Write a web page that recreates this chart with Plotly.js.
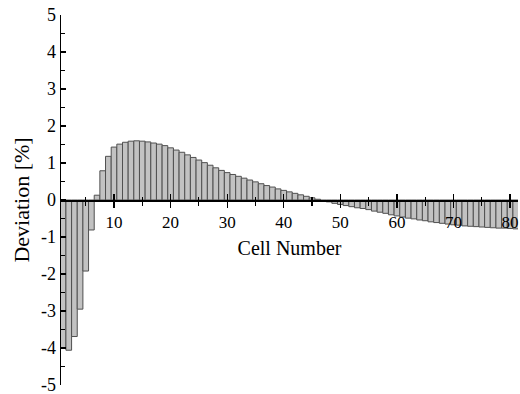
<!DOCTYPE html>
<html>
<head>
<meta charset="utf-8">
<script src="https://cdn.plot.ly/plotly-3.0.1.min.js"></script>
<style>html,body{margin:0;padding:0;background:#fff;}#chart{width:520px;height:394px;}</style>
</head>
<body>
<div id="chart"></div>
<script>
const cellNumbers = [
  1,2,3,4,5,6,7,8,9,10,11,12,13,14,15,16,17,18,19,20,
  21,22,23,24,25,26,27,28,29,30,31,32,33,34,35,36,37,38,39,40,
  41,42,43,44,45,46,47,48,49,50,51,52,53,54,55,56,57,58,59,60,
  61,62,63,64,65,66,67,68,69,70,71,72,73,74,75,76,77,78,79,80,81
];
const deviation = [
  -4.00,-4.06,-3.69,-2.95,-1.92,-0.81,0.13,0.79,1.18,1.43,
  1.51,1.56,1.59,1.60,1.59,1.57,1.54,1.51,1.47,1.41,
  1.35,1.29,1.22,1.15,1.08,1.01,0.94,0.87,0.80,0.74,
  0.69,0.64,0.59,0.54,0.49,0.44,0.39,0.35,0.30,0.26,
  0.22,0.18,0.14,0.10,0.06,0.02,-0.02,-0.05,-0.09,-0.12,
  -0.15,-0.18,-0.21,-0.23,-0.26,-0.30,-0.33,-0.36,-0.40,-0.43,
  -0.46,-0.49,-0.51,-0.54,-0.56,-0.59,-0.61,-0.63,-0.65,-0.67,
  -0.68,-0.70,-0.71,-0.72,-0.73,-0.74,-0.75,-0.76,-0.76,-0.77,-0.78
];
const xTickValues = [10,20,30,40,50,60,70,80];
const xTickLabels = ['10','20','30','40','50','60','70','80'];
const yTickValues = [-5,-4,-3,-2,-1,0,1,2,3,4,5];
const yTickLabels = ['-5','-4','-3','-2','-1','0','1','2','3','4','5'];
const xTitle = 'Cell Number';
const yTitle = 'Deviation [%]';

const serif = 'Liberation Serif, Times New Roman, serif';

const traces = [
  {
    type: 'bar',
    x: cellNumbers,
    y: deviation,
    marker: {color: '#c2c2c2', line: {color: '#505050', width: 1}},
    hoverinfo: 'x+y',
    showlegend: false
  },
  {
    type: 'scatter',
    mode: 'none',
    x: cellNumbers,
    y: deviation,
    xaxis: 'x2',
    hoverinfo: 'skip',
    showlegend: false
  }
];

const xRange = [0.63, 81.4];

const layout = {
  width: 520,
  height: 394,
  margin: {l: 61, r: 2, t: 15, b: 9},
  paper_bgcolor: '#ffffff',
  plot_bgcolor: '#ffffff',
  bargap: 0,
  showlegend: false,
  font: {family: serif, color: '#000', size: 17},
  xaxis: {
    range: xRange,
    anchor: 'free',
    position: 0.5,
    showline: true,
    linecolor: '#000',
    linewidth: 1.5,
    showgrid: false,
    zeroline: false,
    tickmode: 'array',
    tickvals: xTickValues,
    ticktext: xTickLabels,
    ticks: 'outside',
    ticklen: 6,
    tickwidth: 1.3,
    tickcolor: '#000',
    minor: {dtick: 5, tick0: 0, ticks: 'outside', ticklen: 4, tickwidth: 1.1, tickcolor: '#000'},
    tickfont: {family: serif, size: 17, color: '#000'},
    ticklabeloverflow: 'allow',
    title: {text: xTitle, font: {family: serif, size: 20, color: '#000'}, standoff: 10}
  },
  xaxis2: {
    range: xRange,
    overlaying: 'x',
    anchor: 'free',
    position: 0.5,
    showline: false,
    showgrid: false,
    zeroline: false,
    showticklabels: false,
    tickmode: 'array',
    tickvals: xTickValues,
    ticks: 'inside',
    ticklen: 6,
    tickwidth: 1.3,
    tickcolor: '#000',
    minor: {dtick: 5, tick0: 0, ticks: 'inside', ticklen: 3, tickwidth: 1.1, tickcolor: '#000'}
  },
  yaxis: {
    range: [-5, 5],
    showline: true,
    linecolor: '#000',
    linewidth: 1.5,
    showgrid: false,
    zeroline: false,
    tickmode: 'array',
    tickvals: yTickValues,
    ticktext: yTickLabels,
    ticks: 'inside',
    ticklen: 5,
    tickwidth: 1.3,
    tickcolor: '#000',
    minor: {dtick: 0.5, tick0: 0, ticks: 'inside', ticklen: 4, tickwidth: 1.1, tickcolor: '#000'},
    tickfont: {family: serif, size: 18, color: '#000'},
    ticklabeloverflow: 'allow',
    title: {text: yTitle + '\u00a0\u00a0\u00a0\u00a0\u00a0\u00a0\u00a0', font: {family: serif, size: 22, color: '#000'}, standoff: 5}
  }
};

Plotly.newPlot('chart', traces, layout, {displayModeBar: false, staticPlot: true});
</script>
</body>
</html>
